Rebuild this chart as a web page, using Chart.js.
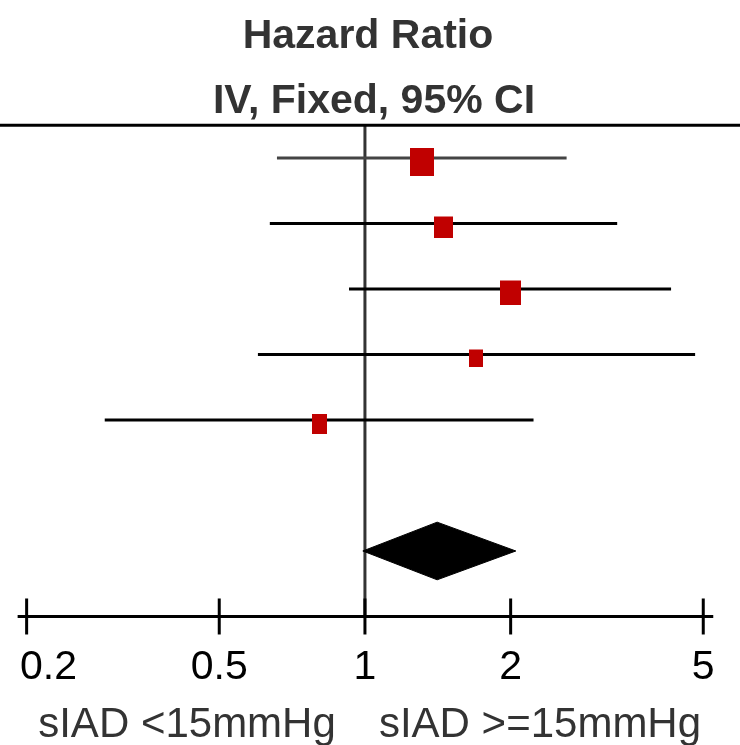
<!DOCTYPE html>
<html lang="en">
<head>
<meta charset="utf-8">
<title>Hazard Ratio - forest plot</title>
<style>
  body { margin: 0; background: #fff; }
  #wrap { width: 740px; height: 745px; position: relative; }
</style>
</head>
<body>
<div id="wrap"><canvas id="forest"></canvas></div>

<script src="https://cdn.jsdelivr.net/npm/chart.js@4.4.1/dist/chart.umd.min.js"></script>
<script>
    // study rows (top to bottom)
    const rows = [1, 2, 3, 4, 5];
    const hr = [1.31, 1.45, 2.00, 1.70, 0.805];
    const ciLow = [0.658, 0.636, 0.927, 0.601, 0.290];
    const ciHigh = [2.61, 3.32, 4.29, 4.81, 2.23];

    // pooled estimate (diamond)
    const totalRow = 7;
    const totalHr = 1.41;
    const totalLow = 0.99;
    const totalHigh = 2.05;

    const xTicks = [0.2, 0.5, 1, 2, 5];
    const titleLines = ['Hazard Ratio', 'IV, Fixed, 95% CI'];
    const favoursLeft = 'sIAD <15mmHg';
    const favoursRight = 'sIAD >=15mmHg';

    // look
    const FONT = "'Liberation Sans', Arial, Helvetica, sans-serif";
    const RED = '#c00000';
    const boxW = [24, 19, 21, 14, 15];
    const boxH = [28, 22, 25, 18, 20];
    const ciColors = ['#444', '#000', '#000', '#000', '#000'];

    // red boxes, drawn a few px below the CI line like the original
    function makeBox(w, h) {
        const c = document.createElement('canvas');
        c.width = w;
        c.height = h + 8;
        const g = c.getContext('2d');
        g.fillStyle = RED;
        g.fillRect(0, 8, w, h);
        return c;
    }
    const boxes = boxW.map((w, i) => makeBox(w, boxH[i]));

    const datasets = [];
    datasets.push({
        label: 'HR',
        type: 'scatter',
        data: rows.map((r, i) => ({ x: hr[i], y: r })),
        pointStyle: boxes,
        pointRadius: 10,
        order: 0
    });
    rows.forEach((r, i) => {
        datasets.push({
            label: 'CI ' + r,
            data: [{ x: ciLow[i], y: r }, { x: ciHigh[i], y: r }],
            borderColor: ciColors[i],
            borderWidth: 3,
            pointRadius: 0,
            order: 2
        });
    });
    datasets.push({
        label: 'Total',
        data: [
            { x: totalLow, y: totalRow },
            { x: totalHr, y: totalRow - 0.44 },
            { x: totalHigh, y: totalRow },
            { x: totalHr, y: totalRow + 0.44 },
            { x: totalLow, y: totalRow }
        ],
        borderColor: '#000',
        backgroundColor: '#000',
        borderWidth: 1,
        pointRadius: 0,
        fill: 'shape',
        order: 1
    });
    // line of no effect
    datasets.push({
        label: 'null',
        data: [{ x: 1, y: 0.5 }, { x: 1, y: 8 }],
        borderColor: '#333',
        borderWidth: 3,
        pointRadius: 0,
        order: 3
    });

    const decorations = {
        id: 'decorations',
        afterDraw(chart) {
            const ctx = chart.ctx;
            const xs = chart.scales.x, ys = chart.scales.y;
            ctx.save();

            // header line
            const topY = ys.getPixelForValue(0.5);
            ctx.strokeStyle = '#000';
            ctx.lineWidth = 3;
            ctx.beginPath();
            ctx.moveTo(0, topY);
            ctx.lineTo(chart.width, topY);
            ctx.stroke();

            // titles
            ctx.fillStyle = '#333';
            ctx.textAlign = 'center';
            ctx.textBaseline = 'alphabetic';
            ctx.font = 'bold 41px ' + FONT;
            ctx.fillText(titleLines[0], 368, 48);
            ctx.fillText(titleLines[1], 374, 113);

            // axis
            const axisY = ys.getPixelForValue(8);
            const x0 = xs.getPixelForValue(xTicks[0]);
            const x1 = xs.getPixelForValue(xTicks[xTicks.length - 1]);
            ctx.strokeStyle = '#000';
            ctx.lineWidth = 3;
            ctx.beginPath();
            ctx.moveTo(x0 - 9, axisY);
            ctx.lineTo(x1 + 10, axisY);
            ctx.stroke();

            ctx.fillStyle = '#000';
            ctx.font = '41px ' + FONT;
            xTicks.forEach(v => {
                const px = xs.getPixelForValue(v);
                ctx.beginPath();
                ctx.moveTo(px, axisY - 18);
                ctx.lineTo(px, axisY + 18);
                ctx.stroke();
                // keep the label inside the page, like the original
                const label = String(v);
                const half = ctx.measureText(label).width / 2;
                const cx = Math.min(Math.max(px, 20 + half), chart.width - 26 - half + 22);
                ctx.fillText(label, cx, axisY + 63);
            });

            // favours labels
            ctx.fillStyle = '#333';
            ctx.font = '42px ' + FONT;
            ctx.fillText(favoursLeft, 187, 737);
            ctx.fillText(favoursRight, 540, 737);
            ctx.restore();
        }
    };

    const ctx = document.getElementById('forest').getContext('2d');
    const chart = new Chart(ctx, {
        type: 'line',
        data: { datasets: datasets },
        options: {
            responsive: true,
            maintainAspectRatio: false,
            animation: false,
            layout: { padding: 0, autoPadding: false },
            plugins: { legend: { display: false }, tooltip: { enabled: false } },
            scales: {
                x: { type: 'logarithmic', min: 0.1762, max: 5.955, display: false },
                y: { type: 'linear', min: -1.412, max: 9.962, reverse: true, display: false }
            }
        },
        plugins: [decorations]
    });
</script>
</body>
</html>
